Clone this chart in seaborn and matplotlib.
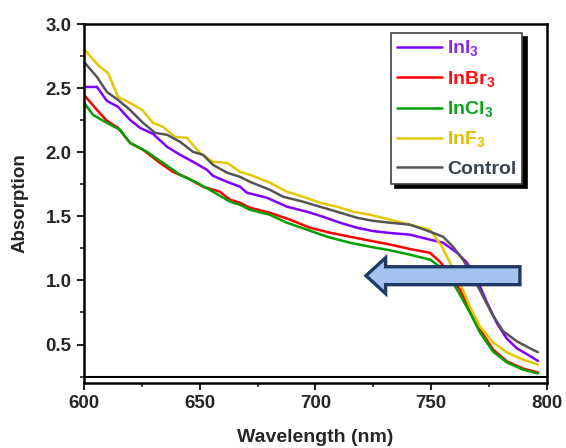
import matplotlib
matplotlib.use('Agg')
import matplotlib.pyplot as plt
import seaborn as sns
import pandas as pd
from matplotlib.patches import FancyArrow
from matplotlib.ticker import MultipleLocator

# Absorption spectra
wl_inf3 = [600, 606.0, 610.4, 614.7, 619.9, 625.1, 629.8, 634.1, 639.3, 644.5, 650.1, 655.7,
           661.8, 667.4, 671.7, 680.3, 687.7, 694.6, 701.9, 709.3, 716.2, 723.5, 732.2, 740.8,
           749.5, 754.6, 758.1, 762.4, 766.7, 771.1, 776.7, 782.7, 789.6, 796.1]
ab_inf3 = [2.805, 2.681, 2.618, 2.431, 2.385, 2.330, 2.229, 2.198, 2.120, 2.112, 1.995, 1.925,
           1.917, 1.847, 1.824, 1.762, 1.692, 1.653, 1.606, 1.575, 1.536, 1.512, 1.474, 1.435,
           1.396, 1.263, 1.139, 0.983, 0.796, 0.640, 0.516, 0.438, 0.383, 0.344]

wl_ctrl = [600.4, 605.6, 609.9, 614.7, 619.9, 625.5, 630.7, 635.9, 641.5, 647.1, 651.4, 655.7,
           661.8, 667.4, 671.7, 680.3, 686.0, 694.6, 701.9, 709.3, 717.9, 724.8, 732.2, 740.8,
           749.5, 755.1, 759.4, 763.7, 768.0, 772.4, 776.7, 781.0, 787.0, 792.7, 796.1]
ab_ctrl = [2.696, 2.587, 2.470, 2.408, 2.330, 2.229, 2.151, 2.136, 2.081, 2.003, 1.980, 1.902,
           1.840, 1.808, 1.769, 1.707, 1.653, 1.614, 1.575, 1.536, 1.489, 1.465, 1.450, 1.435,
           1.380, 1.341, 1.263, 1.162, 1.030, 0.874, 0.725, 0.605, 0.525, 0.470, 0.440]

wl_ini3 = [600, 605.6, 609.9, 614.7, 619.9, 624.2, 629.8, 635.9, 641.5, 647.1, 653.1, 655.7,
           661.8, 667.4, 670.4, 679.0, 687.7, 696.3, 703.2, 710.6, 717.9, 724.8, 732.2, 740.8,
           749.5, 755.1, 761.1, 765.4, 769.8, 774.1, 778.4, 782.7, 787.0, 792.7, 796.1]
ab_ini3 = [2.509, 2.509, 2.400, 2.354, 2.252, 2.190, 2.143, 2.042, 1.980, 1.925, 1.863, 1.816,
           1.769, 1.731, 1.684, 1.645, 1.575, 1.536, 1.497, 1.450, 1.411, 1.385, 1.370, 1.357,
           1.318, 1.294, 1.217, 1.139, 1.006, 0.827, 0.665, 0.545, 0.470, 0.410, 0.372]

wl_inbr3 = [600, 605.6, 609.9, 614.7, 619.9, 625.5, 632.8, 638.4, 644.5, 651.4, 658.7, 663.1,
            667.4, 671.7, 680.3, 689.0, 697.6, 706.3, 714.9, 723.5, 732.2, 740.8, 749.5, 753.8,
            758.1, 762.4, 766.7, 771.1, 776.7, 782.7, 789.6, 796.1]
ab_inbr3 = [2.447, 2.330, 2.245, 2.190, 2.073, 2.019, 1.917, 1.847, 1.801, 1.731, 1.692, 1.629,
            1.606, 1.567, 1.528, 1.474, 1.411, 1.372, 1.341, 1.310, 1.280, 1.245, 1.215, 1.145,
            1.045, 0.928, 0.773, 0.617, 0.461, 0.368, 0.313, 0.282]

wl_incl3 = [600, 603.9, 609.9, 615.6, 619.9, 627.2, 634.1, 641.5, 648.8, 655.7, 663.1, 667.4,
            671.7, 680.3, 687.7, 696.3, 705.0, 714.9, 723.5, 732.2, 740.8, 749.5, 753.8, 758.1,
            762.4, 766.7, 771.1, 776.7, 782.7, 789.6, 796.1]
ab_incl3 = [2.385, 2.291, 2.229, 2.174, 2.073, 2.003, 1.917, 1.824, 1.762, 1.692, 1.614, 1.590,
            1.551, 1.512, 1.450, 1.396, 1.341, 1.294, 1.263, 1.235, 1.201, 1.162, 1.107, 1.022,
            0.889, 0.749, 0.593, 0.445, 0.360, 0.305, 0.274]

labels = [r'InI$_\mathbf{3}$', r'InBr$_\mathbf{3}$', r'InCl$_\mathbf{3}$', r'InF$_\mathbf{3}$', 'Control']
line_colors = ['#8000FF', '#FF0000', '#00A000', '#E6C800', '#555555']
text_colors = ['#8A2BE2', '#FF1010', '#10A020', '#E0C000', '#3A4250']

series = [(wl_ini3, ab_ini3), (wl_inbr3, ab_inbr3), (wl_incl3, ab_incl3),
          (wl_inf3, ab_inf3), (wl_ctrl, ab_ctrl)]

sns.set_style('ticks')
plt.rcParams['font.family'] = ['Liberation Sans', 'DejaVu Sans']
plt.rcParams['font.weight'] = 'bold'
plt.rcParams['mathtext.fontset'] = 'custom'
plt.rcParams['mathtext.rm'] = 'Liberation Sans:bold'
plt.rcParams['mathtext.bf'] = 'Liberation Sans:bold'

fig = plt.figure(figsize=(5.66, 4.48), dpi=100)
ax = fig.add_axes([0.1484, 0.1451, 0.8180, 0.8013])

for (wl, ab), lab, col in zip(series, labels, line_colors):
    df = pd.DataFrame({'wl': wl, 'ab': ab})
    sns.lineplot(data=df, x='wl', y='ab', ax=ax, color=col, lw=1.8, label=lab, sort=False)

ax.axhline(0.25, color='black', lw=1.5, zorder=1)

# blue-shift arrow
arrow = FancyArrow(788.3, 1.037, -66.5, 0, width=0.14, head_width=0.28, head_length=8.5,
                   length_includes_head=True, facecolor='#A4C2F0', edgecolor='#1F3864',
                   lw=2.4, zorder=5)
ax.add_patch(arrow)

ax.set_xlim(600, 800)
ax.set_ylim(0.2, 3.0)
ax.xaxis.set_major_locator(MultipleLocator(50))
ax.xaxis.set_minor_locator(MultipleLocator(25))
ax.yaxis.set_major_locator(MultipleLocator(0.5))
ax.yaxis.set_minor_locator(MultipleLocator(0.25))
ax.set_yticks([0.5, 1.0, 1.5, 2.0, 2.5, 3.0])
ax.tick_params(which='major', direction='out', length=5, width=1.5, labelsize=13.5, pad=4)
ax.tick_params(which='minor', direction='out', length=3, width=1.2)
for lbl in ax.get_xticklabels() + ax.get_yticklabels():
    lbl.set_fontweight('bold')
for sp in ax.spines.values():
    sp.set_linewidth(1.8)
    sp.set_color('black')

ax.set_xlabel('Wavelength (nm)', fontsize=14, fontweight='bold', labelpad=12)
ax.set_ylabel('Absorption', fontsize=13.5, fontweight='bold', labelpad=12)

leg = ax.legend(loc='upper left', bbox_to_anchor=(0.663, 0.975), borderaxespad=0,
                fontsize=14, handlelength=2.3, handletextpad=0.3, labelspacing=0.52,
                borderpad=0.3, fancybox=False, framealpha=1,
                shadow={'color': 'black', 'alpha': 1, 'ox': 3, 'oy': -3})
leg.get_frame().set_edgecolor('#404040')
leg.get_frame().set_linewidth(1.2)
for txt, c in zip(leg.get_texts(), text_colors):
    txt.set_color(c)
    txt.set_fontweight('bold')

fig.savefig('out.png', dpi=100)
